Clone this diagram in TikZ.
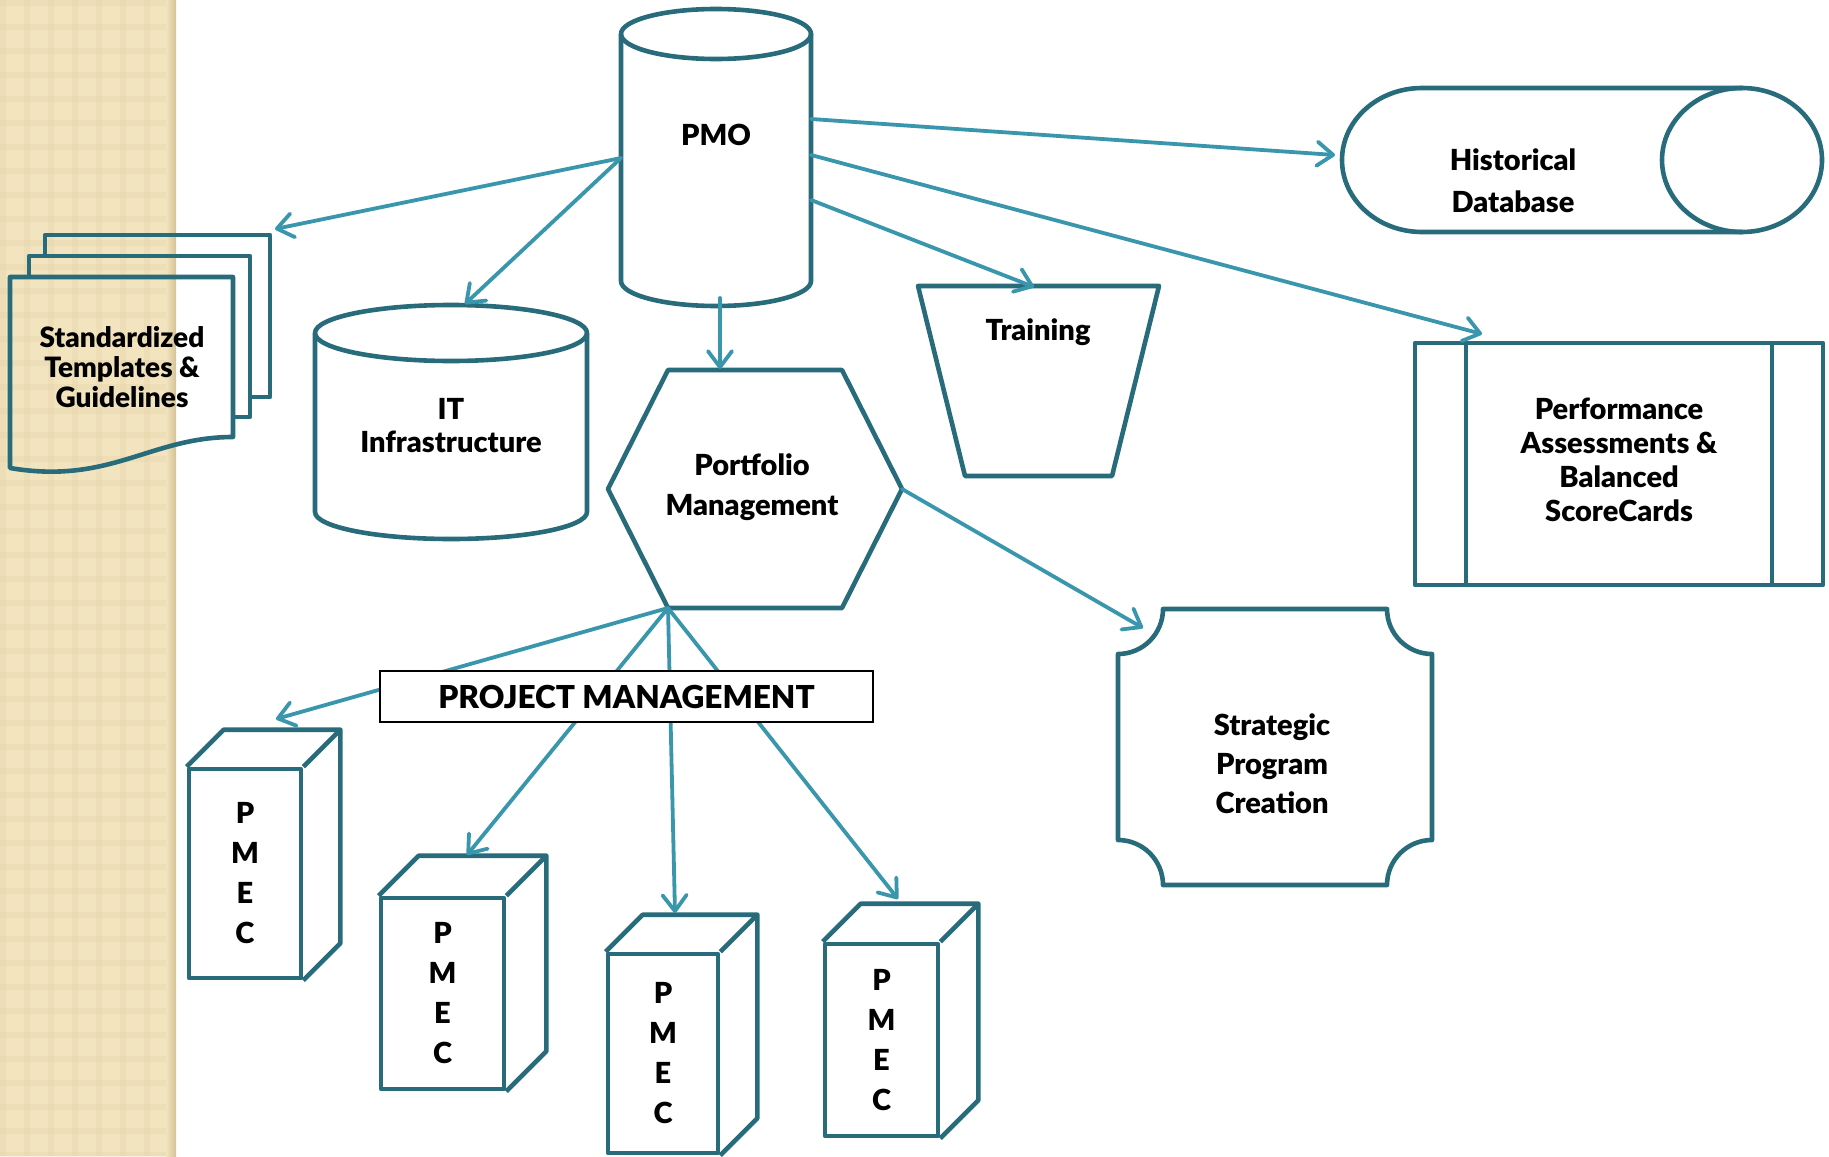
\documentclass[tikz,border=0pt]{standalone}
\usepackage{xcolor}
\usepackage{tikz}
\usetikzlibrary{arrows.meta}
\usepackage{fontspec}
\setmainfont{Lato}[BoldFont={Lato Black}]

\definecolor{contorno}{RGB}{40,108,124}
\definecolor{seta}{RGB}{58,150,172}
\definecolor{faixa}{RGB}{242,228,190}
\definecolor{faixaescura}{RGB}{229,213,170}
\definecolor{faixaborda}{RGB}{212,194,148}

\begin{document}
\begin{tikzpicture}[x=0.5pt, y=-0.5pt,
    forma/.style={line width=2.3pt, draw=contorno, line join=round},
    ligacao/.style={line width=1.9pt, draw=seta, line cap=round,
        -{Straight Barb[length=8pt, width=12pt, round]}},
    rotulo/.style={font=\bfseries\fontsize{14.5}{17}\selectfont, align=center, inner sep=0pt},
    pmec/.style={forma, fill=white, inner sep=0pt, align=center,
        font=\bfseries\fontsize{14.5}{20}\selectfont}]

    % Fundo branco e faixa lateral (bege com trama)
    \useasboundingbox (0,0) rectangle (1829,1156);
    \fill[white] (0,0) rectangle (1829,1156);
    \fill[faixa] (0,0) rectangle (176,1156);
    \foreach \yy in {0,24,...,1152} \fill[faixaescura, opacity=0.35] (0,\yy) rectangle (176,\yy+6);
    \foreach \xx in {0,24,...,168} \fill[faixaescura, opacity=0.35] (\xx,0) rectangle (\xx+6,1156);
    \shade[left color=faixa, right color=faixaborda] (166,0) rectangle (176,1156);

    % Documentos - Standardized Templates (três folhas, sem preenchimento)
    \draw[forma] (45,256) -- (45,235) -- (270,235) -- (270,397) -- (250,397);
    \draw[forma] (29,277) -- (29,256) -- (250,256) -- (250,417) -- (233,417);
    \draw[forma] (10,277) -- (233,277) -- (233,437) .. controls (150,437) and (110,485) .. (10,468) -- cycle;
    \node[rotulo, font=\bfseries\fontsize{14}{15}\selectfont] (tpl) at (122,367) {Standardized\\Templates \&\\Guidelines};
    \coordinate (tpl-in) at (275,229);

    % Cilindro - PMO
    \filldraw[forma, fill=white] (621,34) -- (621,281) arc[start angle=180, end angle=0, x radius=95, y radius=25] -- (811,34);
    \draw[forma] (716,34) ellipse[x radius=95, y radius=25];
    \node[rotulo] (pmo) at (716,135) {PMO};
    \coordinate (pmo-w) at (621,158);
    \coordinate (pmo-e1) at (811,119);
    \coordinate (pmo-e2) at (811,155);
    \coordinate (pmo-e3) at (811,200);
    \coordinate (pmo-s) at (720,298);

    % Cilindro - IT Infrastructure
    \filldraw[forma, fill=white] (315,333) -- (315,512) arc[start angle=180, end angle=0, x radius=136, y radius=27] -- (587,333);
    \draw[forma] (451,333) ellipse[x radius=136, y radius=28];
    \node[rotulo, font=\bfseries\fontsize{14.5}{16.5}\selectfont] (it) at (451,426) {IT\\Infrastructure};
    \coordinate (it-in) at (465,304);

    % Hexágono - Portfolio Management
    \draw[forma] (608,489) coordinate (pfm-w) -- (668,370) -- (842,370) -- (902,489) coordinate (pfm-e)
        -- (842,608) -- (668,608) coordinate (pfm-sw) -- cycle;
    \node[rotulo, font=\bfseries\fontsize{14.5}{20}\selectfont] (pfm) at (752,487) {Portfolio\\Management};
    \coordinate (pfm-n) at (720,369);

    % Trapézio - Training
    \draw[forma] (918,286) -- (1159,286) -- (1112,476) -- (965,476) -- cycle;
    \node[rotulo] (trein) at (1038,332) {Training};
    \coordinate (trein-in) at (1034,287);

    % Cilindro deitado - Historical Database
    \draw[forma] (1742,88) -- (1422,88) arc[start angle=270, end angle=90, x radius=80, y radius=72] -- (1742,232);
    \draw[forma] (1742,160) ellipse[x radius=80, y radius=72];
    \node[rotulo, font=\bfseries\fontsize{14.5}{21}\selectfont] (hist) at (1513,181) {Historical\\Database};
    \coordinate (hist-in) at (1335,155);

    % Processo predefinido - Performance Assessments
    \draw[forma] (1415,343) rectangle (1823,585);
    \draw[forma] (1466,343) -- (1466,585) (1772,343) -- (1772,585);
    \node[rotulo] (perf) at (1619,460) {Performance\\Assessments \&\\Balanced\\ScoreCards};
    \coordinate (perf-in) at (1482,334);

    % Placa - Strategic Program Creation (cantos côncavos)
    \draw[forma] (1163,609) -- (1387,609) arc[start angle=180, end angle=90, radius=45]
        -- (1432,840) arc[start angle=270, end angle=180, radius=45]
        -- (1163,885) arc[start angle=0, end angle=-90, radius=45]
        -- (1118,654) arc[start angle=90, end angle=0, radius=45] -- cycle;
    \node[rotulo, font=\bfseries\fontsize{14.5}{19.5}\selectfont] (estr) at (1272,764) {Strategic\\Program\\Creation};
    \coordinate (estr-in) at (1143,628);

    % Cubos - PMEC (frente como nó, topo e lado desenhados)
    \foreach \nome/\cx/\cy/\larg/\alt/\prof in {A/245/873.5/56/104.5/37, B/442.5/993.5/61.5/95.5/40,
                                              C/663/1053.5/55/99.5/37, D/881.5/1040/56.5/96/38} {
        \node[pmec, minimum width=\larg pt, minimum height=\alt pt] (pmec\nome) at (\cx,\cy) {P\\M\\E\\C};
        \draw[forma] (pmec\nome.north west) -- ++(\prof,-\prof) -- ([shift={(\prof,-\prof)}]pmec\nome.north east)
            -- ([shift={(\prof,-\prof)}]pmec\nome.south east) -- (pmec\nome.south east);
        \draw[forma] (pmec\nome.north east) -- ++(\prof,-\prof);
    }
    \coordinate (pA-in) at (276,719);
    \coordinate (pB-in) at (467,855);
    \coordinate (pC-in) at (675,913);
    \coordinate (pD-in) at (898,899);

    % Setas (azul claro)
    \draw[ligacao] (pmo-w) -- (tpl-in);
    \draw[ligacao] (pmo-w) -- (it-in);
    \draw[ligacao] (pmo-e1) -- (hist-in);
    \draw[ligacao] (pmo-e2) -- (perf-in);
    \draw[ligacao] (pmo-e3) -- (trein-in);
    \draw[ligacao] (pmo-s) -- (pfm-n);
    \draw[ligacao] (pfm-e) -- (estr-in);
    \foreach \p in {A,B,C,D} \draw[ligacao] (pfm-sw) -- (p\p-in);

    % Caixa - PROJECT MANAGEMENT (borda preta fina, por cima das setas)
    \node[draw=black, line width=0.6pt, fill=white, minimum width=246.5pt, minimum height=25.5pt,
        font=\bfseries\fontsize{15.8}{18}\selectfont] (gp) at (626.5,696.5) {PROJECT MANAGEMENT};
\end{tikzpicture}
\end{document}
